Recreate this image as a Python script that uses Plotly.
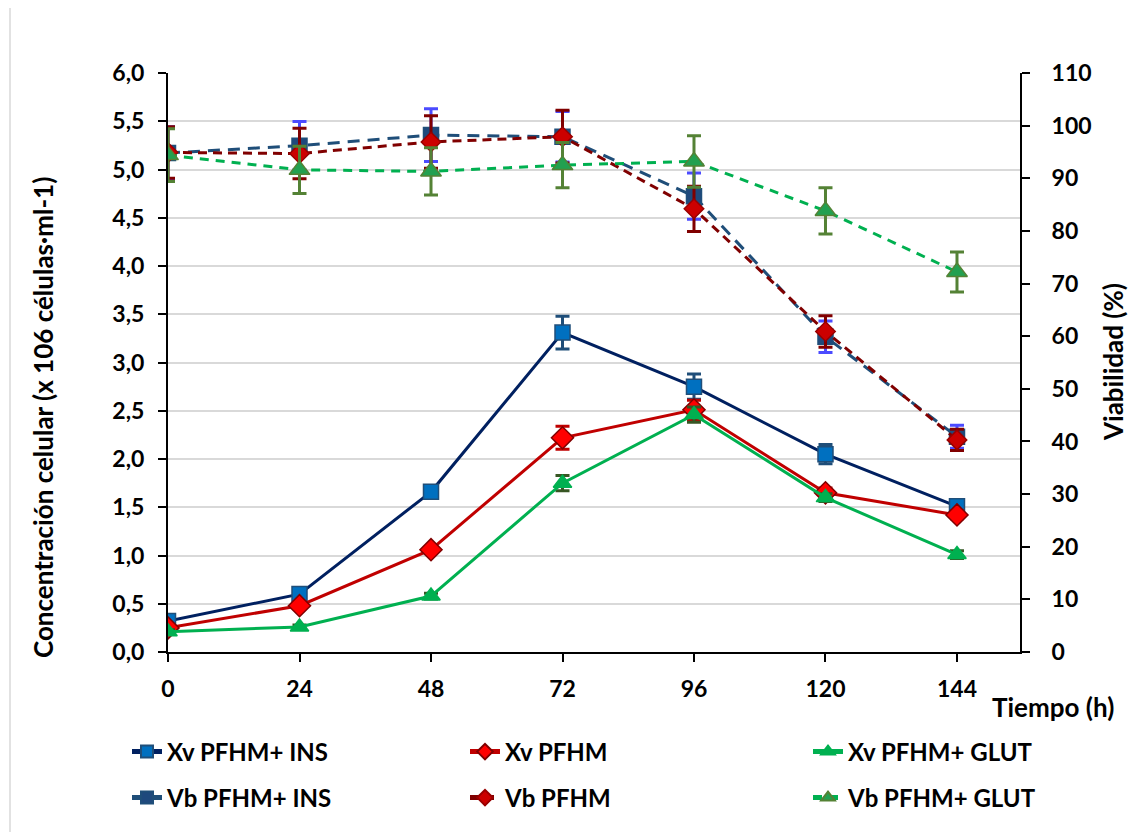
import plotly.graph_objects as go

tiempo = [0, 24, 48, 72, 96, 120, 144]

xv_ins = [0.32, 0.60, 1.66, 3.31, 2.75, 2.05, 1.51]
xv_ins_err = [0.03, 0.03, 0.05, 0.17, 0.13, 0.10, 0.04]
xv_pfhm = [0.25, 0.48, 1.06, 2.22, 2.51, 1.65, 1.42]
xv_pfhm_err = [0.02, 0.03, 0.03, 0.12, 0.10, 0.05, 0.04]
xv_glut = [0.21, 0.26, 0.58, 1.75, 2.46, 1.60, 1.01]
xv_glut_err = [0.02, 0.02, 0.03, 0.08, 0.08, 0.04, 0.04]

vb_ins = [94.8, 96.2, 98.2, 97.9, 86.6, 59.9, 40.9]
vb_ins_err = [5.0, 4.6, 5.0, 4.8, 4.4, 3.0, 2.2]
vb_pfhm = [94.9, 94.7, 96.9, 97.9, 84.2, 60.9, 40.3]
vb_pfhm_err = [4.9, 4.8, 5.0, 5.0, 4.3, 3.0, 2.0]
vb_glut = [94.4, 91.6, 91.3, 92.5, 93.2, 83.8, 72.2]
vb_glut_err = [5.0, 4.5, 4.5, 4.3, 4.9, 4.4, 3.8]

x_ticks = [0, 24, 48, 72, 96, 120, 144]

FONT = "Lato, Calibri, sans-serif"

W, H = 1128, 824
ML, MT, PW, PH = 160, 65, 852, 579

fig = go.Figure()

def add(name, x, y, err, line_color, dash, marker_sym, marker_color, marker_line,
        err_color, size, yaxis, legend):
    fig.add_trace(go.Scatter(
        x=x, y=y, name=name, mode="lines+markers", yaxis=yaxis, legend=legend,
        line=dict(color=line_color, width=3, dash=dash),
        marker=dict(symbol=marker_sym, size=size, color=marker_color,
                    line=dict(color=marker_line, width=1.5)),
        error_y=dict(type="data", array=err, visible=True, color=err_color,
                     thickness=3, width=7),
    ))

add("Xv PFHM+ INS", tiempo, xv_ins, xv_ins_err, "#002060", "solid", "square", "#0070C0",
    "#1F4E79", "#1F4E79", 15, "y", "legend")
add("Xv PFHM", tiempo, xv_pfhm, xv_pfhm_err, "#C00000", "solid", "diamond", "#FF0000",
    "#800000", "#C00000", 17, "y", "legend2")
add("Xv PFHM+ GLUT", tiempo, xv_glut, xv_glut_err, "#00B050", "solid", "triangle-up", "#00B050",
    "#00B050", "#375623", 16, "y", "legend3")
add("Vb PFHM+ INS", tiempo, vb_ins, vb_ins_err, "#1F4E79", "12px,8px", "square", "#1F497D",
    "#1F4E79", "#4B4BFF", 15, "y2", "legend4")
add("Vb PFHM", tiempo, vb_pfhm, vb_pfhm_err, "#800000", "9px,6px", "diamond", "#CC0000",
    "#990000", "#800000", 15, "y2", "legend5")
add("Vb PFHM+ GLUT", tiempo, vb_glut, vb_glut_err, "#00B050", "9px,7px", "triangle-up", "#22A050",
    "#548235", "#548235", 18, "y2", "legend6")

leg_font = dict(family=FONT, size=24, color="black", weight="bold")
col_x = [119, 457, 800]
row_y = [744, 790]

def leg(cx, ry):
    return dict(orientation="h", x=cx / W, xanchor="left", xref="container",
                y=1 - ry / H, yanchor="middle", yref="container",
                font=leg_font, bgcolor="rgba(0,0,0,0)", itemsizing="constant")

tick_font = dict(family=FONT, size=23, color="black", weight="bold")

fig.update_layout(
    width=W, height=H,
    paper_bgcolor="white", plot_bgcolor="white",
    separators=",.",
    margin=dict(l=ML, r=W - ML - PW, t=MT, b=H - MT - PH),
    showlegend=True,
    legend=leg(col_x[0], row_y[0]),
    legend2=leg(col_x[1], row_y[0]),
    legend3=leg(col_x[2], row_y[0]),
    legend4=leg(col_x[0], row_y[1]),
    legend5=leg(col_x[1], row_y[1]),
    legend6=leg(col_x[2], row_y[1]),
    xaxis=dict(range=[0, 155.5], tickvals=x_ticks, ticks="outside", ticklen=8,
               tickwidth=2, tickcolor="black", ticklabelstandoff=7,
               showline=True, linecolor="black", linewidth=2, showgrid=False,
               zeroline=False, tickfont=tick_font),
    yaxis=dict(range=[0, 6], dtick=0.5, tickformat=".1f", ticks="outside", ticklen=8,
               tickwidth=2, tickcolor="black", ticklabelstandoff=9,
               showline=True, linecolor="black", linewidth=2,
               showgrid=True, gridcolor="#D9D9D9", gridwidth=2, zeroline=False,
               tickfont=tick_font),
    yaxis2=dict(range=[0, 110], dtick=10, overlaying="y", side="right", ticks="outside",
                ticklen=8, tickwidth=2, tickcolor="black", ticklabelstandoff=17,
                showline=True, linecolor="black", linewidth=2, showgrid=False, zeroline=False,
                tickfont=tick_font),
    annotations=[
        dict(text="Concentración celular (x 106 células·ml-1)", xref="paper", yref="paper",
             x=(35 - ML) / PW, y=1 - (410 - MT) / PH, textangle=-90,
             xanchor="center", yanchor="middle", showarrow=False,
             font=dict(family=FONT, size=26, color="black", weight="bold")),
        dict(text="Viabilidad (%)", xref="paper", yref="paper",
             x=(1105 - ML) / PW, y=1 - (354 - MT) / PH, textangle=-90,
             xanchor="center", yanchor="middle", showarrow=False,
             font=dict(family=FONT, size=26, color="black", weight="bold")),
        dict(text="Tiempo (h)", xref="paper", yref="paper",
             x=(1045 - ML) / PW, y=1 - (699 - MT) / PH,
             xanchor="center", yanchor="middle", showarrow=False,
             font=dict(family=FONT, size=26, color="black", weight="bold")),
    ],
    shapes=[dict(type="rect", xref="paper", yref="paper", x0=(2 - ML) / PW,
                 x1=1.2, y0=-0.32, y1=1 + (MT + 3) / PH,
                 line=dict(color="#D9D9D9", width=1.5))],
)

fig.write_html("out.html")
